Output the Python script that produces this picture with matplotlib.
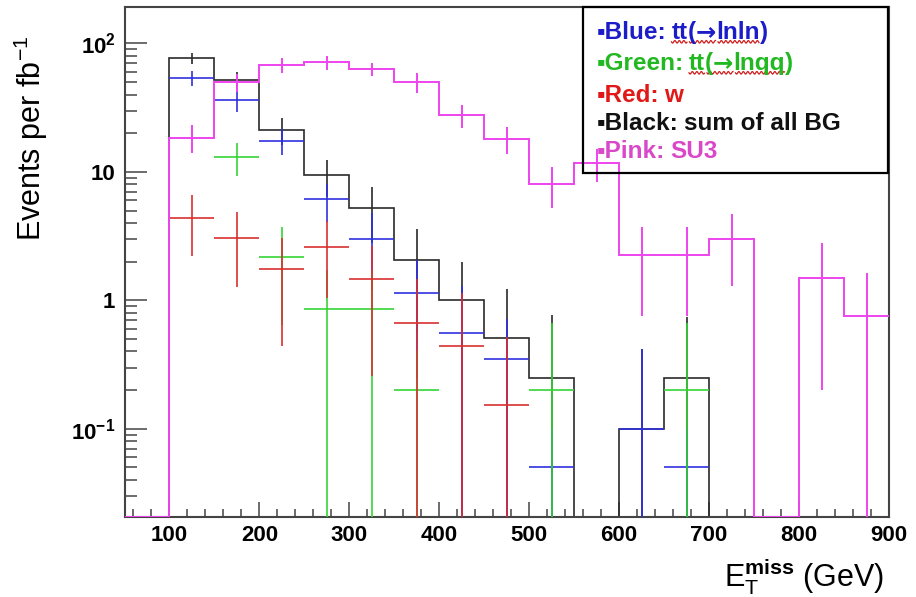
import numpy as np
import matplotlib

matplotlib.use("Agg")
import matplotlib.pyplot as plt
from matplotlib.ticker import MultipleLocator, FixedLocator, FixedFormatter, LogLocator, NullFormatter
from matplotlib.patches import Rectangle
from matplotlib.lines import Line2D

plt.rcParams["font.family"] = ["Liberation Sans", "DejaVu Sans"]
plt.rcParams["mathtext.fontset"] = "custom"
plt.rcParams["mathtext.rm"] = "Liberation Sans"
plt.rcParams["mathtext.bf"] = "Liberation Sans:bold"

# E_T^miss binning: 50 GeV bins from 50 to 900 GeV
bin_edges = np.arange(50, 901, 50)
bin_centres = 0.5 * (bin_edges[:-1] + bin_edges[1:])

# events per fb^-1 in each bin, with errors
sum_bg = [0, 76.5, 52, 21.3, 9.4, 5.2, 2.07, 1.0, 0.51, 0.25, 0, 0.10, 0.25, 0, 0, 0, 0]
sum_bg_err = [0, 8, 7.5, 5, 3, 2.4, 1.5, 1.0, 0.72, 0.52, 0, 0.32, 0.49, 0, 0, 0, 0]
tt_lnln = [0, 54, 36, 17.5, 6.1, 3.0, 1.15, 0.56, 0.35, 0.05, 0, 0.10, 0.05, 0, 0, 0, 0]
tt_lnln_err = [0, 7, 7, 4, 2, 1.8, 0.9, 0.73, 0.36, 0.05, 0, 0.32, 0.05, 0, 0, 0, 0]
tt_lnqq = [0, 0, 13, 2.19, 0.86, 0.86, 0.2, 0, 0, 0.2, 0, 0, 0.2, 0, 0, 0, 0]
tt_lnqq_err = [0, 0, 3.7, 1.55, 0.86, 0.86, 0.2, 0, 0, 0.47, 0, 0, 0.47, 0, 0, 0, 0]
w_bg = [0, 4.4, 3.08, 1.74, 2.6, 1.46, 0.667, 0.44, 0.154, 0, 0, 0, 0, 0, 0, 0, 0]
w_bg_err = [0, 2.2, 1.8, 1.3, 1.55, 1.2, 0.8, 0.7, 0.36, 0, 0, 0, 0, 0, 0, 0, 0]
su3 = [0, 18.5, 50, 68, 71, 63, 50, 27.5, 18, 8.1, 11.8, 2.25, 2.25, 3.0, 0, 1.5, 0.76]
su3_err = [0, 4.5, 8, 9, 9, 7, 9, 5.5, 4.2, 2.9, 3.4, 1.5, 1.5, 1.7, 0, 1.3, 0.88]

# legend rows: (prefix, rest of the text in pieces, text colour)
legend_rows = [
    ("\u25aaBlue:", ["tt", "(", "\u2192", "lnln", ")"], "#1c1cc8"),
    ("\u25aaGreen:", ["tt", "(", "\u2192", "lnqq", ")"], "#22b822"),
    ("\u25aaRed:", ["w"], "#e01818"),
    ("\u25aaBlack:", ["sum of all BG"], "#111111"),
    ("\u25aaPink:", ["SU3"], "#d848c8"),
]

YMIN, YMAX = 0.0207, 193
C_BLUE, C_GREEN, C_RED, C_BLACK, C_PINK = "#3030e0", "#33d433", "#d83030", "#2a2a2a", "#ee44ee"
W, H = 916, 597


def err_ends(vals, errs):
    v = np.asarray(vals, float)
    e = np.asarray(errs, float)
    m = v > 0
    # bars longer than the value run down to the axis
    lo = np.where(e[m] >= v[m], v[m] * 0.999, e[m])
    return m, v[m], lo, e[m]


def crosses(ax, vals, errs, color, z):
    m, v, lo, hi = err_ends(vals, errs)
    half = np.diff(bin_edges)[m] / 2
    ax.errorbar(bin_centres[m], v, xerr=half, yerr=[lo, hi], fmt="none",
                ecolor=color, elinewidth=1.2, capsize=0, zorder=z)


def hist_with_errors(ax, vals, errs, color, lw, z):
    ax.stairs(np.maximum(vals, YMIN), bin_edges, color=color, lw=lw, baseline=None, zorder=z)
    m, v, lo, hi = err_ends(vals, errs)
    ax.errorbar(bin_centres[m], v, yerr=[lo, hi], fmt="none",
                ecolor=color, elinewidth=lw, capsize=0, zorder=z)


fig = plt.figure(figsize=(W / 100, H / 100), dpi=100)
renderer = fig.canvas.get_renderer()
ax = fig.add_axes([124.5 / W, 80.3 / H, 764.5 / W, 510 / H])
ax.set_yscale("log")

hist_with_errors(ax, sum_bg, sum_bg_err, C_BLACK, 1.2, 2)
crosses(ax, tt_lnln, tt_lnln_err, C_BLUE, 3)
crosses(ax, tt_lnqq, tt_lnqq_err, C_GREEN, 4)
crosses(ax, w_bg, w_bg_err, C_RED, 5)
hist_with_errors(ax, su3, su3_err, C_PINK, 1.4, 6)

ax.set_xlim(50, 900)
ax.set_ylim(YMIN, YMAX)

ax.xaxis.set_major_locator(MultipleLocator(100))
ax.xaxis.set_minor_locator(MultipleLocator(20))
ax.yaxis.set_major_locator(FixedLocator([0.1, 1, 10, 100]))
ax.yaxis.set_major_formatter(FixedFormatter([r"$\mathbf{10^{-1}}$", "1", "10", r"$\mathbf{10^{2}}$"]))
ax.yaxis.set_minor_locator(LogLocator(base=10, subs=np.arange(2, 10)))
ax.yaxis.set_minor_formatter(NullFormatter())

ax.tick_params(axis="both", which="both", direction="in", color="#444444", width=1.1)
ax.tick_params(axis="x", which="major", length=10.5, pad=6, labelsize=16)
ax.tick_params(axis="x", which="minor", length=5.5)
ax.tick_params(axis="y", which="major", length=16, pad=6.5, labelsize=16)
ax.tick_params(axis="y", which="minor", length=8.5)
for lab in ax.get_xticklabels() + ax.get_yticklabels():
    lab.set_fontweight("bold")
for sp in ax.spines.values():
    sp.set_color("#444444")
    sp.set_linewidth(1.5)

fig.text(31 / W, 1 - 138 / H, r"Events per fb$^{\mathregular{-1}}$", rotation=90,
         ha="center", va="center", fontsize=22)
fig.text(884 / W, 1 - 577 / H, r"E$_{\mathrm{T}}^{\mathbf{miss}}$ (GeV)",
         ha="right", va="center", fontsize=22)

# legend box in the top-right corner (no fill, data shows through)
fig.patches.append(Rectangle((583 / W, 1 - 173 / H), 305 / W, 166 / H,
                             transform=fig.transFigure, fill=False, ec="black", lw=1.6))

LEG_FS = 17.5
row_baselines = [39, 70, 102, 130, 158]


def put(s, x_px, y_px, color, family=None):
    kw = dict(color=color, fontsize=LEG_FS, fontweight="bold", ha="left", va="baseline")
    if family:
        kw["family"] = family
    t = fig.text(x_px / W, 1 - y_px / H, s, **kw)
    return t.get_window_extent(renderer).x1


def squiggle(x0, x1, y_px):
    xs = np.arange(x0, x1, 0.5)
    ys = y_px + 2.8 + 1.3 * np.sin((xs - x0) * 2 * np.pi / 4.5)
    fig.lines.append(Line2D(xs / W, 1 - ys / H, transform=fig.transFigure,
                            color="#d02020", lw=0.9))


t_probe = fig.text(0, 0, "x x", fontsize=LEG_FS, fontweight="bold")
t_probe2 = fig.text(0, 0, "xx", fontsize=LEG_FS, fontweight="bold")
space_px = t_probe.get_window_extent(renderer).width - t_probe2.get_window_extent(renderer).width
t_probe.remove()
t_probe2.remove()

for (prefix, rest, col), yb in zip(legend_rows, row_baselines):
    x = put(prefix, 597, yb, col) + space_px * 0.7
    if len(rest) == 1:
        put(rest[0], x, yb, col)
        continue
    # decay string: tt ( -> lnXX ), spell-check style underline below the words
    x_tt = x
    x = put(rest[0], x, yb, col)
    squiggle(x_tt, x, yb)
    x_par = x + 2
    x = put(rest[1], x, yb, col)
    x = put(rest[2], x, yb, col, family="DejaVu Sans")
    squiggle(x_par, x, yb)
    x_w = x + 2
    x = put(rest[3], x, yb, col)
    squiggle(x_w, x, yb)
    put(rest[4], x, yb, col)

fig.savefig("out.png", dpi=100)
